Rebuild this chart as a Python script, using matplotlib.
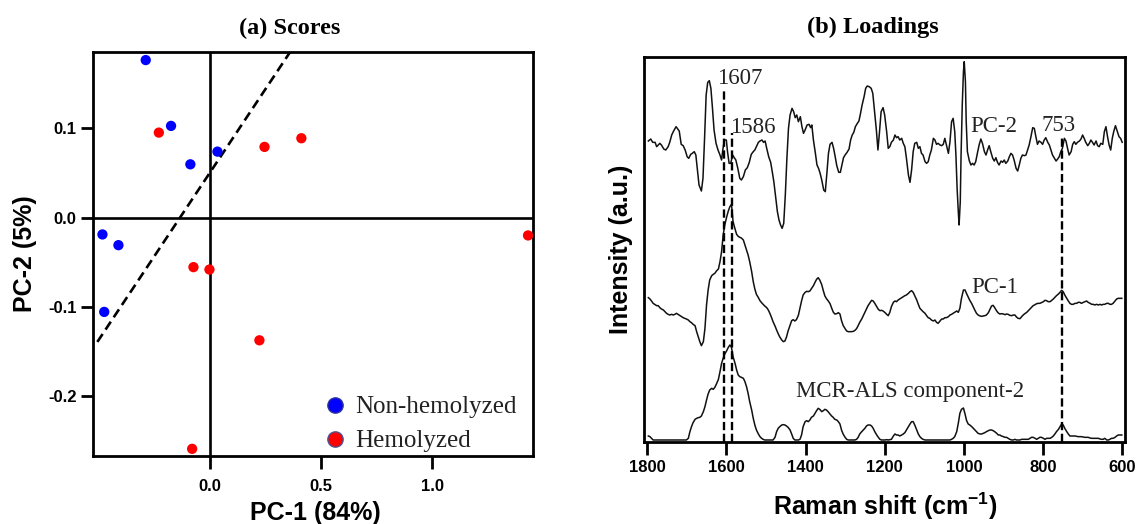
import matplotlib
matplotlib.use('Agg')
import matplotlib.pyplot as plt
from matplotlib.lines import Line2D

plt.rcParams['font.family'] = 'Liberation Sans'
plt.rcParams['axes.unicode_minus'] = False
plt.rcParams['mathtext.fontset'] = 'custom'
plt.rcParams['mathtext.rm'] = 'Liberation Sans'
plt.rcParams['mathtext.bf'] = 'Liberation Sans:bold'

# ---- (a) PCA scores ----
non_pc1 = [-0.290, -0.176, -0.089, 0.033, -0.485, -0.413, -0.477]
non_pc2 = [0.1765, 0.1028, 0.0598, 0.074, -0.0187, -0.0307, -0.1054]
hem_pc1 = [-0.231, 0.245, 0.411, 1.432, -0.075, -0.003, 0.222, -0.081]
hem_pc2 = [0.0953, 0.0793, 0.089, -0.0198, -0.0553, -0.058, -0.1372, -0.2587]
sep_pc1 = [-0.508, 0.360]
sep_pc2 = [-0.139, 0.1854]

# ---- (b) loadings (a.u.) ----
pc2_wn = [1797, 1791, 1786, 1780, 1776, 1772, 1768, 1764, 1758, 1753,
          1747, 1743, 1738, 1734, 1727, 1724, 1719, 1714, 1709, 1704,
          1699, 1695, 1690, 1686, 1681, 1677, 1673, 1669, 1663, 1659,
          1655, 1651, 1647, 1643, 1639, 1635, 1631, 1626, 1621, 1616,
          1612, 1609, 1605, 1600, 1597, 1593, 1589, 1584, 1580, 1576,
          1571, 1566, 1562, 1557, 1552, 1547, 1542, 1537, 1532, 1528,
          1524, 1519, 1515, 1510, 1506, 1502, 1498, 1493, 1488, 1484,
          1480, 1476, 1471, 1467, 1463, 1459, 1455, 1451, 1447, 1443,
          1439, 1434, 1430, 1426, 1422, 1418, 1413, 1409, 1405, 1401,
          1396, 1391, 1387, 1384, 1380, 1375, 1371, 1367, 1363, 1359,
          1354, 1350, 1346, 1342, 1338, 1333, 1329, 1325, 1321, 1316,
          1312, 1308, 1304, 1300, 1295, 1290, 1286, 1282, 1278, 1274,
          1269, 1265, 1261, 1257, 1252, 1248, 1244, 1239, 1234, 1230,
          1226, 1221, 1217, 1213, 1209, 1204, 1200,
          1195, 1191, 1187, 1183, 1178, 1174, 1170, 1166, 1162, 1157,
          1153, 1149, 1145, 1140, 1136, 1132, 1128, 1124, 1119, 1115,
          1111, 1107, 1103, 1098, 1094, 1090, 1086, 1082, 1077, 1073,
          1069, 1065, 1060, 1056, 1052, 1048, 1044, 1039, 1035, 1031,
          1027, 1023, 1020, 1017, 1014, 1012, 1009, 1007, 1004, 1001,
          999, 996, 994, 991, 986, 982, 978, 974, 970, 965,
          961, 957, 953, 948, 944, 940, 936, 932, 927, 923,
          919, 915, 911, 906, 902, 898, 894, 889, 885, 881,
          877, 873, 868, 864, 860, 856, 852, 847, 843, 839,
          835, 831, 826, 822, 818, 814, 810, 805, 801, 797,
          793, 788, 784, 780, 776, 772, 767, 763, 759, 755,
          751, 746, 742, 738, 734, 729, 725, 721, 717, 713,
          708, 704, 700, 696, 692, 687, 683, 679, 675, 671,
          666, 662, 658, 654, 649, 645, 641, 637, 633, 629,
          625, 621, 617, 612, 608, 604, 600]
pc2_load = [1.2, 1.8, 0.8, 0.8, -0.5, 0, 0.5, 0, -1.2, -1.5,
            -0.5, 0.8, 3.0, 4.0, 5.5, 5.0, 4.2, 0.2, -0.2, -1.5,
            -3.5, -4.0, -2.8, -2.5, -2.0, -3.0, -7.5, -12.0, -13.8, -10.0,
            2.0, 15.0, 18.8, 19.3, 17.0, 11.0, 4.5, 0.5, -1.5, -3.0,
            -4.5, -1.5, 1.5, 1.5, -2.0, -5.5, -5.5, -3.0, -3.8, -4.5,
            -7.0, -10.0, -10.5, -9.5, -7.5, -6.8, -5.2, -2.8, -2.0, -1.5,
            -0.5, 0.8, 1.2, 1.5, 0.8, 1.2, -1.0, -3.5, -5.2, -8.0,
            -11.0, -15.0, -20.0, -22.5, -24.0, -25.0, -23.5, -15.0, -4.0, 5.0,
            9.0, 11.0, 10.0, 8.2, 9.0, 7.0, 8.5, 5.5, 3.5, 4.5,
            6.0, 6.2, 5.2, 6.0, 1.5, -2.5, -6.0, -7.0, -8.5, -10.5,
            -13.5, -14.0, -8.5, -2.5, 0.2, 0.8, -1.0, -3.5, -6.2, -8.2,
            -8.2, -6.0, -3.8, -3.0, -2.2, -1.2, 1.5, 3.0, 3.8, 5.5,
            6.5, 7.2, 9.5, 12.0, 14.5, 17.0, 17.7, 17.5, 17.0, 15.5,
            10.5, 4.5, -1.5, 4.0, 10.0, 11.2, 9.0,
            4.0, -1.0, -0.5, 0.8, 1.5, 3.0, 2.2, 2.5, 1.5, 2.0,
            0.5, -0.5, -4.0, -9.0, -11.2, -7.5, -2.0, 0.5, 0.8, -1.0,
            -0.5, -2.5, -3.0, -5.0, -5.5, -5.0, -3.0, -1.5, 2.0, 1.5,
            0.2, 0.5, 0, -0.2, 0.2, 2.0, 0, -2.5, 1.0, 7.0,
            8.0, 4.0, -3.0, -13.0, -20.0, -24.0, -17.0, -3.0, 12.0, 22.0,
            25.0, 19.0, 7.0, -2.0, -4.8, -6.0, -5.5, -6.0, -5.0, -2.0,
            0.2, 1.8, 0.5, -2.0, -3.0, -1.5, -0.2, -2.0, -4.0, -4.8,
            -3.8, -5.2, -6.0, -4.8, -5.2, -4.5, -5.5, -4.8, -3.5, -2.5,
            -3.0, -4.5, -7.0, -7.8, -6.0, -4.0, -3.0, -3.2, -3.0, -1.5,
            0, 2.2, 5.2, 5.0, 2.5, 0.2, 1.2, 0.8, 0.2, 1.5,
            2.2, 0.8, 0, -1.5, -3.0, -3.8, -4.8, -4.2, -3.5, -2.0,
            -1.0, 2.0, 1.2, -1.0, -3.0, -2.0, 0.2, 1.0, 0.2, 0.8,
            1.2, 1.8, 3.0, 2.0, 0.8, -0.2, 0.5, 1.5, 0.8, 0,
            1.2, -0.2, -0.5, 0.5, 0.2, 4.0, 5.5, 2.5, 0, -1.5,
            2.0, 4.2, 5.8, 4.0, 2.5, 2.0, 0.8]

grid_wn = [1797, 1793, 1789, 1785, 1781, 1776, 1772, 1768, 1764, 1759,
           1755, 1751, 1747, 1743, 1738, 1734, 1730, 1726, 1722, 1717,
           1713, 1709, 1705, 1701, 1696, 1692, 1688, 1684, 1679, 1675,
           1671, 1667, 1663, 1658, 1654, 1650, 1646, 1642, 1637, 1633,
           1629, 1625, 1620, 1616, 1612, 1608, 1604, 1599, 1595, 1591,
           1587, 1583, 1578, 1574, 1570, 1566, 1562, 1557, 1553, 1549,
           1545, 1541, 1536, 1532, 1528, 1524, 1519, 1515, 1511, 1507,
           1503, 1498, 1494, 1490, 1486, 1482, 1477, 1473, 1469, 1465,
           1460, 1456, 1452, 1448, 1444, 1439, 1435, 1431, 1427, 1423,
           1418, 1414, 1410, 1406, 1401, 1397, 1393, 1389, 1385, 1380,
           1376, 1372, 1368, 1364, 1359, 1355, 1351, 1347, 1343, 1338,
           1334, 1330, 1326, 1321, 1317, 1313, 1309, 1305, 1300, 1296,
           1292, 1288, 1284, 1279, 1275, 1271, 1267, 1263, 1258, 1254,
           1250, 1246, 1242, 1237, 1233, 1229, 1225, 1220, 1216, 1212,
           1208, 1204, 1199,
           1195, 1191, 1187, 1183, 1178, 1174, 1170, 1166, 1162, 1157,
           1153, 1149, 1145, 1140, 1136, 1132, 1128, 1124, 1119, 1115,
           1111, 1107, 1103, 1098, 1094, 1090, 1086, 1082, 1077, 1073,
           1069, 1065, 1060, 1056, 1052, 1048, 1044, 1039, 1035, 1031,
           1027, 1023, 1018, 1014, 1010, 1006, 1001, 997, 993, 989,
           985, 980, 976, 972, 968, 964, 959, 955, 951, 947,
           943, 938, 934, 930, 926, 922, 917, 913, 909, 905,
           900, 896, 892, 888, 884, 879, 875, 871, 867, 863,
           858, 854, 850, 846, 841, 837, 833, 829, 825, 820,
           816, 812, 808, 804, 799, 795, 791, 787, 782, 778,
           774, 770, 766, 761, 757, 753, 749, 745, 740, 736,
           732, 728, 724, 719, 715, 711, 707, 703, 698, 694,
           690, 686, 681, 677, 673, 669, 665, 660, 656, 652,
           648, 644, 639, 635, 631, 627, 623, 618, 614, 610,
           606, 601]
pc1_load = [-0.8, -1.2, -1.8, -2.5, -2.8, -3.2, -3.2, -3.8, -4.2, -4.5,
            -5.0, -5.5, -5.8, -6.0, -5.8, -6.0, -5.8, -5.5, -5.8, -6.2,
            -6.5, -6.8, -7.0, -7.2, -7.5, -8.0, -8.3, -8.8, -9.2, -11.0,
            -12.5, -14.0, -15.2, -14.0, -10.0, -3.0, 1.5, 4.5, 5.8, 6.2,
            6.5, 7.2, 7.8, 10.0, 13.0, 18.0, 21.0, 23.5, 25.2, 26.5,
            27.2, 22.0, 19.8, 18.2, 17.6, 17.3, 17.1, 16.5, 15.0, 13.5,
            12.0, 10.0, 7.0, 4.0, 1.8, 0.2, -0.8, -1.7, -2.3, -2.8,
            -3.3, -3.8, -4.5, -5.5, -6.7, -8.0, -9.3, -10.5, -11.6, -12.6,
            -13.5, -14.0, -13.8, -12.6, -10.8, -9.1, -7.7, -7.4, -7.8, -7.4,
            -6.1, -4.0, -1.8, 0.0, 0.8, 1.1, 1.0, 1.2, 1.9, 2.8,
            3.8, 4.7, 5.2, 4.5, 3.1, 1.3, -0.3, -1.1, -1.7, -2.6,
            -3.9, -5.1, -5.7, -5.6, -5.3, -5.7, -7.7, -9.1, -10.1, -10.8,
            -11.0, -11.0, -11.0, -10.9, -10.6, -10.1, -9.2, -8.2, -7.2, -6.2,
            -5.2, -4.2, -3.2, -2.3, -1.6, -1.8, -2.5, -3.5, -4.3, -4.7,
            -4.6, -4.8, -5.3,
            -5.8, -6.2, -5.2, -3.5, -2.2, -1.8, -2.0, -1.5, -1.2, -0.8,
            -0.5, -0.2, 0, 0.5, 1.0, 1.3, 0.8, -0.2, -1.5, -2.8,
            -4.0, -4.5, -5.0, -5.5, -6.2, -6.8, -7.0, -7.5, -7.8, -7.5,
            -8.2, -8.5, -7.8, -7.2, -7.2, -6.8, -6.8, -6.5, -6.0, -5.8,
            -5.5, -5.2, -4.8, -5.2, -4.0, -1.0, 1.5, 1.5, 0.4, -0.6,
            -1.6, -2.6, -3.6, -4.6, -5.5, -6.0, -6.3, -6.4, -6.3, -6.2,
            -6.0, -5.3, -4.3, -3.3, -3.1, -3.8, -4.8, -5.4, -5.7, -5.6,
            -5.7, -5.9, -5.7, -5.8, -6.1, -6.2, -6.0, -6.0, -6.6, -7.0,
            -7.1, -6.5, -6.0, -5.6, -5.2, -4.7, -4.2, -3.7, -3.2, -2.9,
            -2.6, -2.5, -2.5, -2.3, -2.0, -1.6, -1.7, -2.0, -2.0, -1.6,
            -1.2, -0.7, -0.2, 0.3, 0.8, 1.4, 1.0, 0, -1.0, -1.8,
            -2.5, -2.8, -2.8, -2.5, -2.5, -2.2, -2.2, -2.5, -2.2, -2.0,
            -1.8, -2.2, -2.5, -2.8, -2.8, -3.0, -2.8, -3.0, -2.8, -3.0,
            -2.8, -2.8, -2.5, -2.5, -2.8, -2.8, -2.5, -1.8, -1.2, -1.0,
            -1.0, -1.0]
mcr_comp2 = [1.2, 1.0, 0.5, 0, 0, 0, 0, 0, 0, 0,
             0, 0, 0, 0, 0, 0, 0, 0, 0, 0,
             0, 0, 0, 0, 0.5, 2.5, 4.0, 5.2, 6.2, 6.5,
             6.7, 6.8, 7.2, 8.5, 10.0, 12.0, 13.8, 15.0, 15.5, 15.2,
             15.8, 16.8, 18.2, 20.5, 23.0, 24.5, 25.8, 26.8, 27.8, 28.5,
             27.8, 25.0, 23.0, 21.0, 19.5, 19.0, 18.8, 18.5, 17.5, 16.0,
             14.0, 11.5, 9.0, 6.5, 4.5, 3.0, 1.8, 1.0, 0.5, 0.2,
             0, 0, 0, 0, 0, 0, 0.8, 2.5, 3.5, 4.0,
             4.5, 4.6, 4.5, 4.2, 3.8, 3.0, 1.8, 0.5, 0, 0,
             0, 0.2, 1.5, 4.0, 5.5, 5.8, 5.5, 6.0, 6.8, 7.2,
             8.0, 8.8, 9.5, 9.2, 8.5, 8.8, 9.2, 9.0, 8.5, 7.8,
             7.2, 6.8, 6.2, 6.0, 5.5, 4.8, 3.0, 1.8, 0.8, 0.2,
             0, 0, 0, 0, 0, 0.2, 0.8, 1.8, 2.5, 3.0,
             3.5, 4.2, 4.5, 4.5, 4.2, 3.5, 2.5, 1.5, 0.8, 0.2,
             0, 0, 0,
             0.1, 0, 0.1, 0.2, 1.2, 1.8, 1.5, 1.5, 1.2, 1.5,
             1.8, 2.2, 3.0, 4.0, 4.8, 5.5, 5.5, 4.5, 3.0, 1.8,
             1.0, 0.5, 0.2, 0, 0, 0, 0, 0, 0, 0,
             0, 0, 0, 0, 0, 0, 0, 0, 0, 0.2,
             0.5, 1.0, 2.5, 5.0, 8.0, 9.2, 9.6, 7.8, 5.8, 4.8,
             4.5, 4.0, 3.5, 3.0, 2.5, 2.0, 1.8, 1.8, 2.0, 2.2,
             2.5, 2.8, 3.0, 3.0, 2.8, 2.5, 2.0, 1.5, 1.5, 1.2,
             1.0, 0.8, 0.8, 0.5, 0.2, 0, 0, 0.2, 0, 0,
             0, 0.2, 0.2, 0.2, 0.2, 0.2, 0.5, 0.8, 0.8, 0.5,
             0.2, 0.5, 0.8, 0.8, 0.5, 0.2, 0.5, 0.5, 0.5, 0.8,
             1.2, 1.8, 2.5, 3.2, 4.0, 4.8, 4.5, 3.5, 2.5, 1.8,
             1.2, 1.2, 1.2, 1.2, 1.1, 1.0, 1.0, 1.0, 0.9, 0.8,
             0.8, 0.8, 0.6, 0.5, 0.5, 0.5, 0.5, 0.5, 0.3, 0.2,
             0.2, 0.5, 0, 0, 0.2, 0.5, 0.5, 0.8, 1.2, 1.5,
             1.5, 1.5]
marker_bands = [1607, 1586, 753]

serif = 'Liberation Serif'

fig = plt.figure(figsize=(11.37, 5.24), dpi=100)

# ---------------- (a) Scores ----------------
ax1 = fig.add_axes([0.0821, 0.1303, 0.3870, 0.7699])
ax1.axhline(0, color='black', lw=1.9, zorder=1)
ax1.axvline(0, color='black', lw=1.9, zorder=1)
ax1.plot(sep_pc1, sep_pc2, color='black', lw=1.9, dashes=(3.6, 2.0), zorder=2)
ax1.scatter(non_pc1, non_pc2, s=55, color='#0000ff', edgecolors='none', zorder=3)
ax1.scatter(hem_pc1, hem_pc2, s=55, color='#ff0000', edgecolors='none', zorder=3)
ax1.set_xlim(-0.526, 1.456)
ax1.set_ylim(-0.2664, 0.1852)
ax1.set_xticks([0.0, 0.5, 1.0])
ax1.set_xticklabels(['0.0', '0.5', '1.0'])
ax1.set_yticks([0.1, 0.0, -0.1, -0.2])
ax1.set_yticklabels(['0.1', '0.0', '-0.1', '-0.2'])
ax1.tick_params(axis='both', direction='out', length=9, width=2, labelsize=12)
ax1.tick_params(axis='x', pad=8)
ax1.tick_params(axis='y', pad=3)
for lab in ax1.get_xticklabels() + ax1.get_yticklabels():
    lab.set_fontweight('bold')
for sp in ax1.spines.values():
    sp.set_linewidth(2)

handles = [Line2D([], [], ls='', marker='o', markersize=11, markerfacecolor='#0000ff',
                  markeredgecolor='#30309a', markeredgewidth=1.0),
           Line2D([], [], ls='', marker='o', markersize=11, markerfacecolor='#ff0000',
                  markeredgecolor='#50508c', markeredgewidth=1.0)]
ax1.legend(handles, ['Non-hemolyzed', 'Hemolyzed'], loc='upper left',
           bbox_to_anchor=(0.2836, 0.2443), bbox_transform=fig.transFigure,
           frameon=False, borderpad=0, borderaxespad=0, handlelength=1.0,
           handletextpad=0.3, labelspacing=0.46,
           prop={'family': serif, 'size': 18}, labelcolor='#222222')

fig.text(0.255, 0.945, '(a) Scores', ha='center', va='center',
         family=serif, weight='bold', size=17.5)
fig.text(0.277, 0.0076, 'PC-1 (84%)', ha='center', va='baseline',
         weight='bold', size=18)
fig.text(0.022, 0.5153, 'PC-2 (5%)', ha='center', va='center', rotation=90,
         weight='bold', size=18)

# ---------------- (b) Loadings ----------------
ax2 = fig.add_axes([0.5664, 0.1565, 0.4230, 0.7347])
pc2_offset, pc1_offset, mcr_offset = 89.1, 44.1, 0.6
ax2.plot(pc2_wn, [v + pc2_offset for v in pc2_load], color='#111111', lw=1.1)
ax2.plot(grid_wn, [v + pc1_offset for v in pc1_load], color='#111111', lw=1.1)
ax2.plot(grid_wn, [v + mcr_offset for v in mcr_comp2], color='#111111', lw=1.1)

band_tops = [106.1, 92.6, 91.6]
for wn, top in zip(marker_bands, band_tops):
    ax2.plot([wn, wn], [0, top], color='black', lw=1.7, dashes=(3.5, 1.5))

txt = dict(family=serif, size=16.5, color='#222222', va='baseline', ha='left')
ax2.text(1624.7, 107.3, '1607', **txt)
ax2.text(1591, 92.6, '1586', **txt)
ax2.text(984.7, 92.9, 'PC-2', **txt)
ax2.text(803.5, 93.3, '753', **txt)
ax2.text(982, 44.6, 'PC-1', **txt)
ax2.text(1424, 13.6, 'MCR-ALS component-2', **txt)

ax2.set_xlim(1808, 593)
ax2.set_ylim(0, 115.5)
ax2.set_xticks([1800, 1600, 1400, 1200, 1000, 800, 600])
ax2.set_yticks([])
ax2.tick_params(axis='x', direction='out', length=9, width=2, labelsize=12, pad=4)
for lab in ax2.get_xticklabels():
    lab.set_fontweight('bold')
for sp in ax2.spines.values():
    sp.set_linewidth(2)

fig.text(0.768, 0.948, '(b) Loadings', ha='center', va='center',
         family=serif, weight='bold', size=17.5)
fig.text(0.7782, 0.0172, r'Raman shift (cm$^{\mathbf{-1}}$)', ha='center',
         va='baseline', weight='bold', size=18)
fig.text(0.5462, 0.5239, 'Intensity (a.u.)', ha='center', va='center',
         rotation=90, weight='bold', size=18)

fig.savefig('out.png', dpi=100)
